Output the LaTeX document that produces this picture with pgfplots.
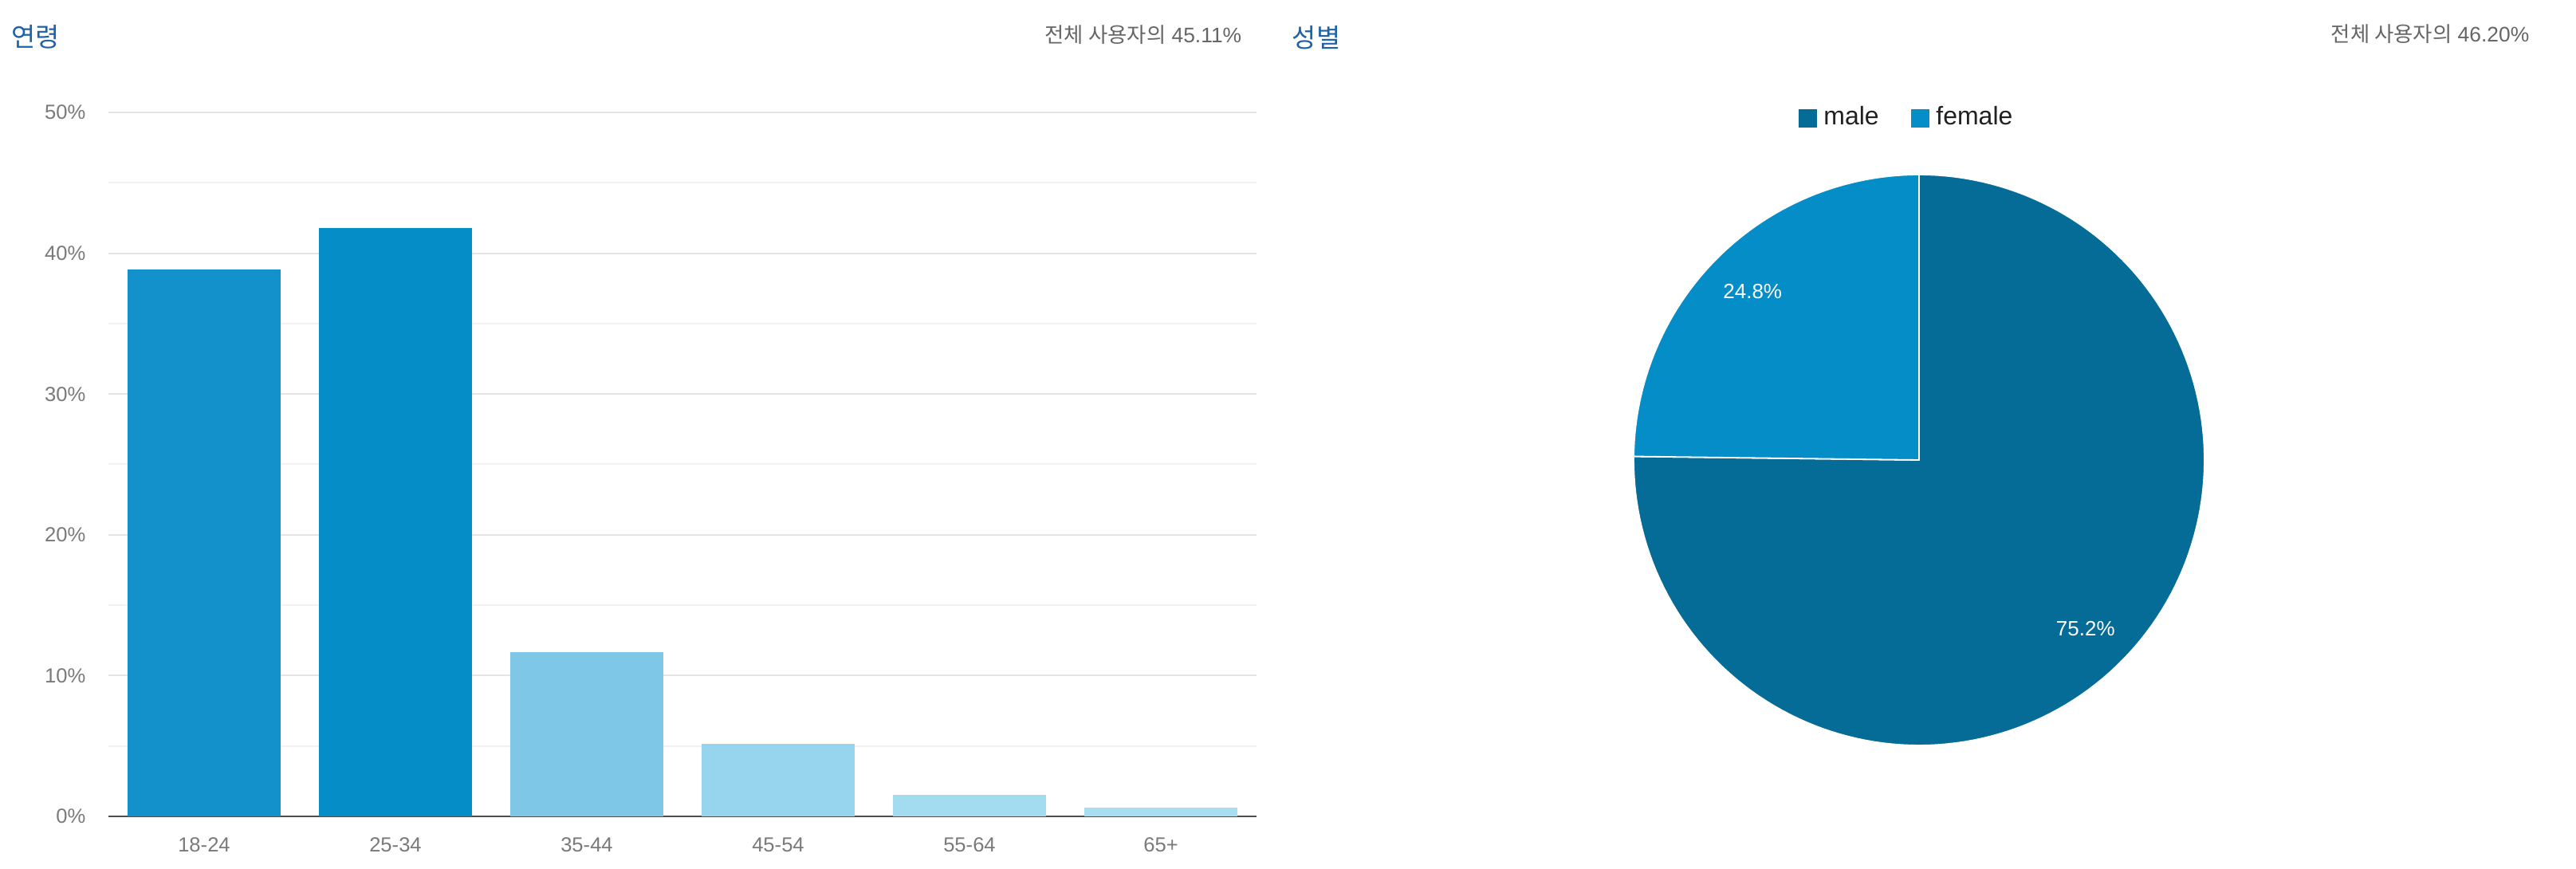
\documentclass[border=0pt]{standalone}
\usepackage{pgfplots}
\pgfplotsset{compat=1.18}
\usepackage{fontspec}
\setmainfont{Liberation Sans}
\newfontfamily\kr{Noto Sans CJK KR}
\definecolor{barA}{HTML}{1391CB}
\definecolor{barB}{HTML}{058DC7}
\definecolor{barC}{HTML}{7FC7E6}
\definecolor{barD}{HTML}{97D5EE}
\definecolor{barE}{HTML}{A3DBF0}
\definecolor{barF}{HTML}{A8DEF2}
\definecolor{male}{HTML}{056B97}
\definecolor{female}{HTML}{058DC7}
\definecolor{gridmajor}{HTML}{E4E4E4}
\definecolor{gridminor}{HTML}{F2F2F2}
\definecolor{ticklab}{HTML}{7A7A7A}
\definecolor{headgray}{HTML}{666666}
\definecolor{titleblue}{HTML}{1E62A8}
\def\malev{75.2}
\def\femalev{24.8}
\begin{document}
\begin{tikzpicture}
\path[use as bounding box, fill=white] (0,0) rectangle (807.75pt,272.5pt);
% headers
\node[anchor=west, inner sep=0pt, text=titleblue, font=\kr\fontsize{8.2}{9}\selectfont] at (3.5pt,261pt) {연령};
\node[anchor=east, inner sep=0pt, text=headgray, font=\fontsize{6.6}{7.5}\selectfont] at (389.5pt,261.6pt) {{\kr 전체 사용자의} 45.11\%};
\node[anchor=west, inner sep=0pt, text=titleblue, font=\kr\fontsize{8.2}{9}\selectfont] at (405pt,260.8pt) {성별};
\node[anchor=east, inner sep=0pt, text=headgray, font=\fontsize{6.6}{7.5}\selectfont] at (793.25pt,261.8pt) {{\kr 전체 사용자의} 46.20\%};
% bar chart
\begin{axis}[
  at={(34pt,16.5pt)}, anchor=south west,
  scale only axis, width=360pt, height=220.75pt,
  xmin=-0.5, xmax=5.5, ymin=0, ymax=50,
  xtick={0,1,2,3,4,5},
  xticklabels={18-24,25-34,35-44,45-54,55-64,65+},
  ytick={0,10,20,30,40,50},
  minor ytick={5,15,25,35,45},
  yticklabel={\pgfmathprintnumber{\tick}\%},
  /pgf/number format/assume math mode=true,
  ymajorgrids, yminorgrids,
  major grid style={color=gridmajor, line width=0.5pt},
  minor grid style={color=gridminor, line width=0.5pt},
  major tick length=0pt, minor tick length=0pt,
  axis x line*=bottom,
  x axis line style={color=black!70, line width=0.7pt},
  axis y line*=left,
  y axis line style={draw=none},
  tick label style={font=\fontsize{6.4}{7}\selectfont, text=ticklab},
  yticklabel style={xshift=-3.6pt},
  xticklabel style={yshift=-3.1pt},
  ybar, bar width=47.75pt,
  every axis plot/.append style={draw=none, bar shift=0pt},
]
\addplot[fill=barA] coordinates {(0,38.87)};
\addplot[fill=barB] coordinates {(1,41.79)};
\addplot[fill=barC] coordinates {(2,11.67)};
\addplot[fill=barD] coordinates {(3,5.15)};
\addplot[fill=barE] coordinates {(4,1.55)};
\addplot[fill=barF] coordinates {(5,0.63)};
\end{axis}
% pie chart
\pgfmathsetmacro\fend{90+\femalev*3.6}
\pgfmathsetmacro\fmid{90+\femalev*1.8}
\pgfmathsetmacro\mmid{\fend+\malev*1.8}
\begin{axis}[
  at={(601.75pt,128.25pt)}, anchor=center,
  scale only axis, width=179pt, height=179pt,
  xmin=-1, xmax=1, ymin=-1, ymax=1,
  hide axis, clip=false,
  legend columns=2,
  legend style={at={(0.482,1.099)}, anchor=center, draw=none, fill=none,
    font=\fontsize{8}{9}\selectfont, text=black!87,
    /tikz/every even column/.append style={column sep=8pt},
    legend cell align=left},
  legend image code/.code={\fill[#1, draw=none] (0pt,-2.9pt) rectangle (5.9pt,2.9pt);},
]
\addplot[fill=male, draw=white, line width=0.45pt, domain=\fend:450, samples=150, variable=\t]
  ({cos(\t)},{sin(\t)}) -- (axis cs:0,0) -- cycle;
\addlegendentry{male}
\addplot[fill=female, draw=white, line width=0.45pt, domain=90:\fend, samples=60, variable=\t]
  ({cos(\t)},{sin(\t)}) -- (axis cs:0,0) -- cycle;
\addlegendentry{female}
\node[text=white, font=\fontsize{6.5}{7}\selectfont] at (axis cs:{0.83*cos(\fmid)},{0.83*sin(\fmid)}) {24.8\%};
\node[text=white, font=\fontsize{6.5}{7}\selectfont] at (axis cs:{0.83*cos(\mmid)},{0.83*sin(\mmid)}) {75.2\%};
\end{axis}
\end{tikzpicture}
\end{document}
